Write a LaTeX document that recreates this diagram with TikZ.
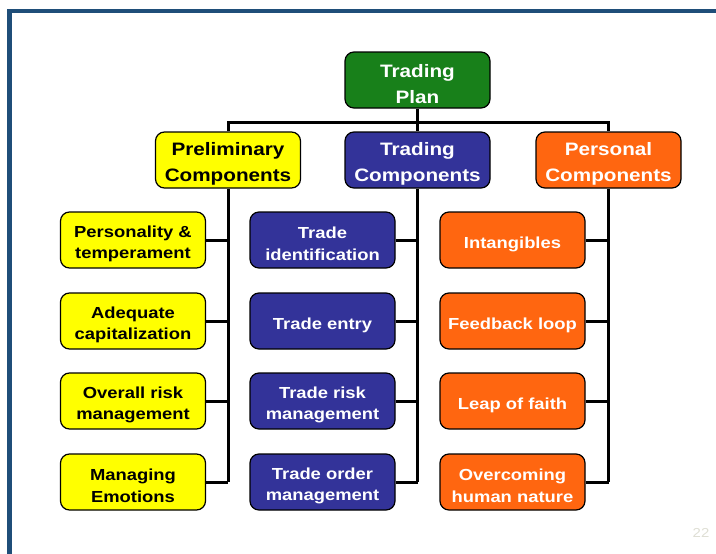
\documentclass[tikz,border=0pt]{standalone}
\usepackage{fontspec}
\setmainfont{Liberation Sans}[FakeStretch=1.15]
\usetikzlibrary{positioning}

\definecolor{framecol}{RGB}{31,78,121}
\definecolor{plangreen}{RGB}{24,128,26}
\definecolor{prelimyellow}{RGB}{255,255,0}
\definecolor{tradeblue}{RGB}{51,51,153}
\definecolor{persorange}{RGB}{255,102,16}
\definecolor{pagegray}{RGB}{222,222,212}

% struts that push the text a little down in its box
\newcommand{\hstrut}{\rule{0pt}{21.3pt}}
\newcommand{\istrut}{\rule{0pt}{19.5pt}}

\tikzset{
	every picture/.style={line width=0.75pt},
	box/.style={draw=black, line width=1.2pt, rounded corners=9pt, minimum width=145, minimum height=56, inner sep=0pt, align=center, text=white},
	headbox/.style={box, font=\fontsize{18}{26}\selectfont\bfseries},
	itembox/.style={box, font=\fontsize{16}{21.5}\selectfont\bfseries},
	link/.style={draw=black, line width=3pt}
}

\begin{document}
\begin{tikzpicture}[x=1pt,y=1pt,yscale=-1,xscale=1]
	\useasboundingbox (0,0) rectangle (716,554);

	%Straight Lines: slide frame
	\draw [color=framecol, line width=4.5pt] (9.5,560) -- (9.5,11) -- (720,11) ;

	% Top node
	\node [headbox, fill=plangreen] (plan) at (417.5,80) {\hstrut Trading\\Plan};
	% Second level
	\node [headbox, fill=prelimyellow, text=black] (prelim) at (228,160) {\hstrut Preliminary\\Components};
	\node [headbox, fill=tradeblue] (trading) at (417.5,160) {\hstrut Trading\\Components};
	\node [headbox, fill=persorange] (personal) at (608.5,160) {\hstrut Personal\\Components};
	\coordinate (bus) at (417.5,122);

	% Preliminary items
	\node [itembox, fill=prelimyellow, text=black] (p1) at (133,240) {\istrut Personality \&\\temperament};
	\node [itembox, fill=prelimyellow, text=black] (p2) at (133,321) {\istrut Adequate\\capitalization};
	\node [itembox, fill=prelimyellow, text=black] (p3) at (133,401) {\istrut Overall risk\\management};
	\node [itembox, fill=prelimyellow, text=black] (p4) at (133,482) {\istrut Managing\\Emotions};
	% Trading items
	\node [itembox, fill=tradeblue] (t1) at (322.5,240) {\istrut Trade\\identification};
	\node [itembox, fill=tradeblue] (t2) at (322.5,321) {\istrut Trade entry};
	\node [itembox, fill=tradeblue] (t3) at (322.5,401) {\istrut Trade risk\\management};
	\node [itembox, fill=tradeblue] (t4) at (322.5,482) {\istrut Trade order\\management};
	% Personal items
	\node [itembox, fill=persorange] (c1) at (512.5,240) {\istrut Intangibles};
	\node [itembox, fill=persorange] (c2) at (512.5,321) {\istrut Feedback loop};
	\node [itembox, fill=persorange] (c3) at (512.5,401) {\istrut Leap of faith};
	\node [itembox, fill=persorange] (c4) at (512.5,482) {\istrut Overcoming\\human nature};

	% Connectors
	\draw [link] (plan.south) -- (trading.north) ;
	\draw [link] (prelim.north) -- (prelim.north|-bus) -| (personal.north) ;
	\draw [link] (prelim.south) -- (prelim.south|-p4.east) ;
	\draw [link] (trading.south) -- (trading.south|-t4.east) ;
	\draw [link] (personal.south) -- (personal.south|-c4.east) ;
	\foreach \i in {1,...,4} {
		\draw [link] (p\i.east) -- (p\i.east-|prelim.south) ;
		\draw [link] (t\i.east) -- (t\i.east-|trading.south) ;
		\draw [link] (c\i.east) -- (c\i.east-|personal.south) ;
	}

	% Text Node
	\node [text=pagegray, font=\fontsize{13}{13}\selectfont] (page) at (701,533) {22};

\end{tikzpicture}
\end{document}
